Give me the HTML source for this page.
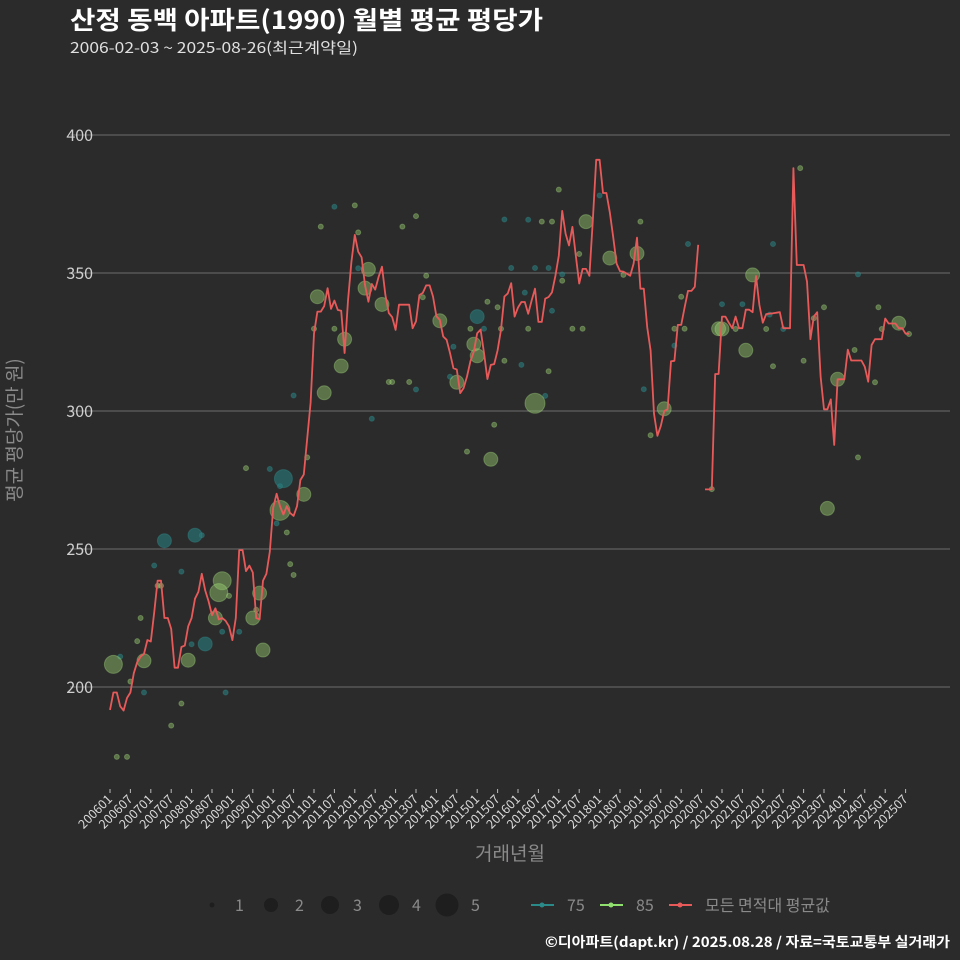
<!DOCTYPE html>
<html><head><meta charset="utf-8">
<style>
html,body{margin:0;padding:0;background:#2c2b2c;}
svg{display:block;font-family:"Noto Sans CJK KR","Liberation Sans",sans-serif;}
</style></head>
<body>
<svg id="chart" width="960" height="960" viewBox="0 0 960 960" xmlns="http://www.w3.org/2000/svg">
<rect x="0" y="0" width="960" height="960" fill="#2c2b2c"/>
<text x="70" y="29" fill="#ffffff" font-size="25" font-weight="bold" textLength="473" lengthAdjust="spacingAndGlyphs">산정 동백 아파트(1990) 월별 평균 평당가</text>
<text x="70" y="53" fill="#e0e0e0" font-size="15" textLength="288" lengthAdjust="spacingAndGlyphs">2006-02-03 ~ 2025-08-26(최근계약일)</text>
<g id="grid"></g>
<g id="yticks"></g>
<g id="xticks"></g>
<g id="points"></g>
<g id="lines"></g>
<text transform="translate(21,430) rotate(-90)" text-anchor="middle" fill="#8a8a8a" font-size="19">평균 평당가(만 원)</text>
<text x="510" y="860" text-anchor="middle" fill="#8a8a8a" font-size="19">거래년월</text>
<g>
  <circle cx="212" cy="905" r="2.5" fill="#1e1e1e"/>
  <text x="235" y="911" fill="#8a8a8a" font-size="16">1</text>
  <circle cx="271" cy="905" r="7" fill="#1e1e1e"/>
  <text x="295" y="911" fill="#8a8a8a" font-size="16">2</text>
  <circle cx="330" cy="905" r="9" fill="#1e1e1e"/>
  <text x="353" y="911" fill="#8a8a8a" font-size="16">3</text>
  <circle cx="389" cy="905" r="10" fill="#1e1e1e"/>
  <text x="412" y="911" fill="#8a8a8a" font-size="16">4</text>
  <circle cx="447" cy="905" r="11.5" fill="#1e1e1e"/>
  <text x="471" y="911" fill="#8a8a8a" font-size="16">5</text>
  <line x1="531" y1="905" x2="554" y2="905" stroke="#2a8a8a" stroke-width="2"/>
  <circle cx="542" cy="905" r="2.5" fill="#2a8a8a"/>
  <text x="567" y="911" fill="#8a8a8a" font-size="16">75</text>
  <line x1="600" y1="905" x2="623" y2="905" stroke="#90e070" stroke-width="2"/>
  <circle cx="611" cy="905" r="2.5" fill="#90e070"/>
  <text x="636" y="911" fill="#8a8a8a" font-size="16">85</text>
  <line x1="669" y1="905" x2="692" y2="905" stroke="#e85a5a" stroke-width="2"/>
  <circle cx="680" cy="905" r="2.5" fill="#e85a5a"/>
  <text x="705" y="911" fill="#8a8a8a" font-size="16">모든 면적대 평균값</text>
</g>
<text x="545" y="947" fill="#ffffff" font-size="14" font-weight="bold" textLength="405" lengthAdjust="spacingAndGlyphs">©디아파트(dapt.kr) / 2025.08.28 / 자료=국토교통부 실거래가</text>
</svg>
<script>
// monthly average (index 0 = 2006-01)
const avgValues = [191.7,198,198,193,191.5,196,198,205,209,211,212,217,216.5,227,238.5,238.5,225,225,221,207,
207,214.5,215,222,225,232,234.5,241,235,231,226,228.5,224.5,225,224,222,217,225,249.6,249.6,
242,244,241.5,225,224.5,238.5,241,249,265,270,265.5,262.5,265.5,263,262,265.5,275,277,290,303,
328,336,336,338,344.5,337,340,336.6,336.3,321,340,354,363.8,357.7,355.7,345.6,339.6,346,344,348.6,
352.3,342,335.5,334,329.4,338.5,338.5,338.5,338.5,330,332.5,342,342.8,345.5,345.5,341.5,334.3,333,327,325.8,
321,315.5,315,306.5,308.3,312.5,318,321.5,328.2,329.5,321,311.6,316.7,317,322,329.5,341.5,342.6,346.3,334.2,
337.5,339.5,339.5,335.2,340,344.3,332.3,332.3,340.7,341.3,343,349,356.3,372.5,364.2,360,366.7,356.3,346.2,351.5,
351.5,349,369,391,391,379,379,372,363,353.4,350.7,350.5,349.8,349,353.4,362.8,344.3,344.3,330.4,321.9,
299,291,294.6,300,300.7,318,318.2,331.2,331.2,337.5,343.5,343.5,345,360.2,null,271.6,271.6,271.6,313.4,313.4,
334.2,334.2,332,330,334.2,330,330,336.7,336.7,335.8,348.9,338.4,332,335.1,335.3,335.4,335.6,335.8,330,330,
330,388,352.9,352.9,352.9,346.9,326,334.2,335.8,312.5,300.6,300.6,304.2,287.7,311.5,311.5,311.5,322.2,318.3,318.3,
318.3,318.3,316,310.6,323.9,326,326,326,333.5,331.7,331.7,331.7,330,330,328,328];
// individual trades: month index, value, count, type
const ptMonth = [2,5,6,8,9,14,18,21,15,35,40,52,53,54,58,43,3,10,13,21,24,27,33,38,34,47,50,49,
1,10,23,33,32,31,44,42,45,57,50,16,25,28,51,
66,72,62,73,86,90,116,73,118,93,92,60,66,82,83,88,90,111,114,115,106,110,101,116,54,77,113,105,100,
61,69,68,63,76,75,80,97,102,107,108,112,108,
132,144,123,127,130,156,170,125,129,133,133,138,151,122,130,123,136,139,121,129,128,157,159,168,166,169,166,177,
125,140,147,155,163,179,
203,195,220,180,186,210,226,184,193,198,207,227,204,195,219,225,220,235,194,
180,187,189,214,232,211];
const ptValue = [174.7,174.7,202,216.6,225,236.7,186,194,236.7,233,279.3,256,244.5,240.6,283.2,228,211,198,244,241.8,215.5,255,220,220,198,279,272.8,259.3,
208.2,209.5,209.7,238.5,234.2,225,234,225,213.4,269.8,264,253,255,215.6,275.5,
374,374.5,366.8,364.7,366.8,370.6,369.4,351.7,351.8,349,341.2,329.8,329.8,310.5,310.5,310.5,307.8,339.6,337.6,329.8,329.8,329.8,323.3,318.2,305.6,297.2,295,285.3,312.4,
341.4,326,316.3,306.6,351.3,344.5,338.6,332.7,310.4,324.2,320,282.5,334.2,
380.2,378.1,369.3,368.6,368.6,368.6,360.5,351.8,351.8,349.5,347.2,356.9,349.3,342.9,336.3,329.8,329.8,329.8,316.7,314.4,305.5,307.9,291.2,341.4,329.8,329.8,323.7,271.7,
302.8,368.6,355.4,357.1,300.8,329.8,
388,360.5,349.5,338.7,338.7,337.6,337.6,329.7,329.7,329.7,333.6,329.7,318.2,316.2,322.1,310.4,283.2,327.9,334.9,
329.7,322,349.3,311.5,331.8,264.7];
const ptCount = [1,1,1,1,1,1,1,1,1,1,1,1,1,1,1,1,1,1,1,1,1,1,1,1,1,1,1,1,
3,2,2,3,3,2,2,2,2,2,4,2,2,2,3,
1,1,1,1,1,1,1,1,1,1,1,1,1,1,1,1,1,1,1,1,1,1,1,1,1,1,1,1,1,
2,2,2,2,2,2,2,2,2,2,2,2,2,
1,1,1,1,1,1,1,1,1,1,1,1,1,1,1,1,1,1,1,1,1,1,1,1,1,1,1,1,
4,2,2,2,2,2,
1,1,1,1,1,1,1,1,1,1,1,1,1,1,1,1,1,1,1,
2,2,2,2,2,2];
const ptType = ["85","85","85","85","85","85","85","85","85","85","85","85","85","85","85","85","75","75","75","75","75","75","75","75","75","75","75","75",
"85","85","85","85","85","85","85","85","85","85","85","75","75","75","75",
"75","85","85","85","85","85","75","75","75","85","85","85","85","85","85","85","75","85","85","85","85","75","75","85","75","75","85","85","75",
"85","85","85","85","85","85","85","85","85","85","85","85","75",
"85","75","75","85","85","85","75","75","75","75","85","85","85","75","75","85","85","85","75","85","75","75","85","85","85","85","75","85",
"85","85","85","85","85","85",
"85","75","75","75","75","85","85","85","85","75","85","85","85","85","85","85","85","85","75",
"85","85","85","85","85","85"];
const yTicks = [200,250,300,350,400];
const xTickLabels = ["200601","200607","200701","200707","200801","200807","200901","200907","201001","201007","201101","201107","201201","201207","201301","201307","201401","201407","201501","201507","201601","201607","201701","201707","201801","201807","201901","201907","202001","202007","202101","202107","202201","202207","202301","202307","202401","202407","202501","202507"];

const NS = "http://www.w3.org/2000/svg";
function xScale(m){ return 110 + m*3.4; }
function yScale(v){ return 687 - (v-200)*2.76; }
function mk(tag, attrs, parent){ const e=document.createElementNS(NS,tag); for(const k in attrs) e.setAttribute(k,attrs[k]); parent.appendChild(e); return e; }
const radius = {1:2.5,2:7,3:9,4:10,5:11.5};

const grid = document.getElementById('grid');
const yt = document.getElementById('yticks');
yTicks.forEach(v=>{
  const l = mk('line',{x1:70,x2:950,y1:yScale(v),y2:yScale(v),stroke:'#6e6e6e','stroke-width':1},grid);
  
  
  const t = mk('text',{x:93,y:yScale(v)+6,'text-anchor':'end',fill:'#cfcfcf','font-size':16},yt);
  t.textContent = v;
  
  
});
const xt = document.getElementById('xticks');
xTickLabels.forEach((lab,k)=>{
  const x = xScale(k*6);
  const tk = mk('line',{x1:x,x2:x,y1:789,y2:793,stroke:'#bbbbbb','stroke-width':1},xt);
  
  
  const t = mk('text',{x:x+3,y:800,'text-anchor':'end',fill:'#d8d8d8','font-size':12.5,transform:'rotate(-45 '+(x+3)+' 800)'},xt);
  t.textContent = lab;
  
  
});

const pg = document.getElementById('points');
ptMonth.forEach((m,i)=>{
  const is85 = ptType[i]==="85";
  const c = mk('circle',{cx:xScale(m),cy:yScale(ptValue[i]),r:radius[ptCount[i]],
    fill: is85 ? 'rgba(150,205,110,0.45)' : 'rgba(40,125,125,0.6)',
    stroke: is85 ? 'rgba(170,225,130,0.35)' : 'rgba(50,140,140,0.4)','stroke-width':1},pg);
  
  
});

const lg = document.getElementById('lines');
let seg = [];
function flush(){
  if(seg.length>1){
    const p = mk('polyline',{points:seg.join(' '),fill:'none',stroke:'#e85a5a','stroke-width':1.8,'stroke-linejoin':'round'},lg);
    
    
  }
  seg=[];
}
avgValues.forEach((v,m)=>{
  if(v===null){ flush(); return; }
  seg.push(xScale(m).toFixed(1)+','+yScale(v).toFixed(1));
});
flush();
</script>
</body></html>
